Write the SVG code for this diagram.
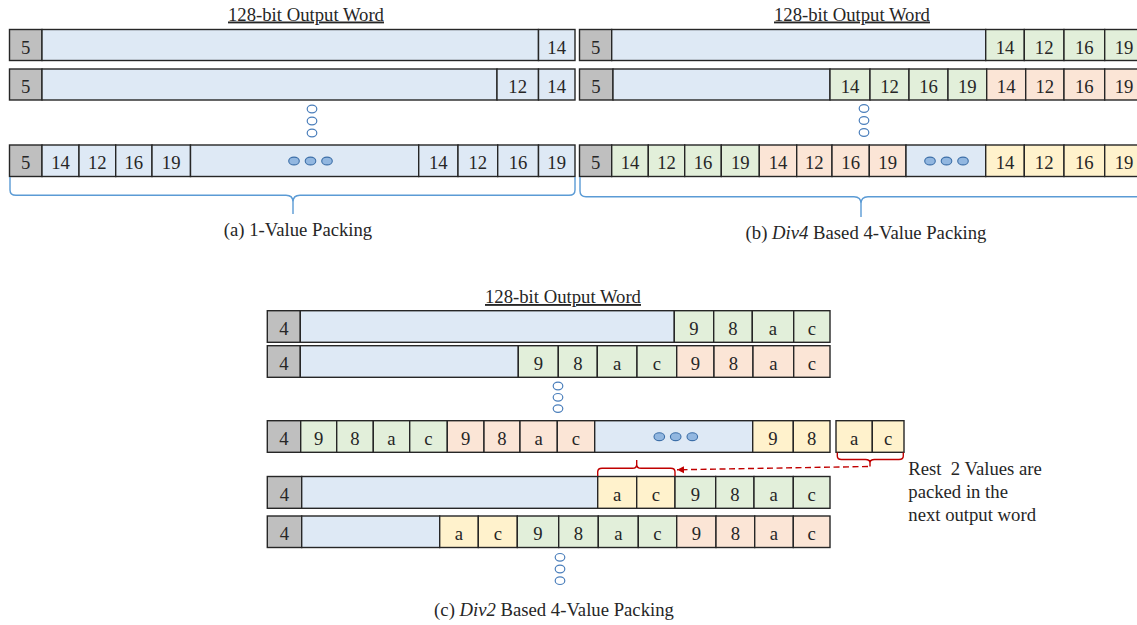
<svg xmlns="http://www.w3.org/2000/svg" width="1137" height="625" viewBox="0 0 1137 625">
<style>
text{font-family:"Liberation Serif","Times New Roman",serif;font-size:18.7px;fill:#262626}
.c{text-anchor:middle}
.ttl{text-decoration:underline}
.g,.b,.gr,.o,.y{stroke:#262626;stroke-width:1.4}
.g{fill:#bfbfbf}.b{fill:#dee9f5}.gr{fill:#e2efda}.o{fill:#fbe5d6}.y{fill:#fff2cc}
.dot{fill:#92b7e0;stroke:#3d6fa8;stroke-width:1.1}
.vd{fill:#fff;stroke:#4a7ebb;stroke-width:1.2}
.br{fill:none;stroke:#5b9bd5;stroke-width:1.4}
.rb{fill:none;stroke:#c00000;stroke-width:1.4}
</style>
<defs>
<marker id="ah" markerWidth="8" markerHeight="8" refX="7" refY="4" orient="auto" markerUnits="userSpaceOnUse">
<path d="M0,0.5 L7,4 L0,7.5 Z" fill="#c00000"/>
</marker>
</defs>
<rect x="0" y="0" width="1137" height="625" fill="#fff"/>

<!-- Titles -->
<text class="c ttl" x="306" y="20.5">128-bit Output Word</text>
<text class="c ttl" x="852" y="20.5">128-bit Output Word</text>
<text class="c ttl" x="563" y="303">128-bit Output Word</text>

<!-- Panel (a) -->
<g id="a-row1">
<rect class="g" x="9.5" y="29.5" width="32.5" height="31"/>
<rect class="b" x="42" y="29.5" width="496.5" height="31"/>
<rect class="b" x="538.5" y="29.5" width="36.5" height="31"/>
<text class="c" x="25.7" y="53.5">5</text><text class="c" x="556.7" y="53.5">14</text>
</g>
<g id="a-row2">
<rect class="g" x="9.5" y="69" width="32.5" height="31"/>
<rect class="b" x="42" y="69" width="455" height="31"/>
<rect class="b" x="497" y="69" width="41.5" height="31"/>
<rect class="b" x="538.5" y="69" width="36.5" height="31"/>
<text class="c" x="25.7" y="93">5</text><text class="c" x="517.7" y="93">12</text><text class="c" x="556.7" y="93">14</text>
</g>
<g id="a-dots">
<ellipse class="vd" cx="312" cy="109" rx="4.8" ry="3.8"/>
<ellipse class="vd" cx="312" cy="121" rx="4.8" ry="3.8"/>
<ellipse class="vd" cx="312" cy="133" rx="4.8" ry="3.8"/>
</g>
<g id="a-row3">
<rect class="g" x="9.5" y="145" width="32.5" height="31.5"/>
<rect class="b" x="42" y="145" width="37" height="31.5"/>
<rect class="b" x="79" y="145" width="36.7" height="31.5"/>
<rect class="b" x="115.7" y="145" width="36.3" height="31.5"/>
<rect class="b" x="152" y="145" width="38.5" height="31.5"/>
<rect class="b" x="190.5" y="145" width="228.2" height="31.5"/>
<rect class="b" x="418.7" y="145" width="39.3" height="31.5"/>
<rect class="b" x="458" y="145" width="39.7" height="31.5"/>
<rect class="b" x="497.7" y="145" width="40.8" height="31.5"/>
<rect class="b" x="538.5" y="145" width="36.5" height="31.5"/>
<text class="c" x="25.7" y="169">5</text><text class="c" x="60.5" y="169">14</text><text class="c" x="97.3" y="169">12</text><text class="c" x="133.8" y="169">16</text><text class="c" x="171.2" y="169">19</text>
<text class="c" x="438.3" y="169">14</text><text class="c" x="477.8" y="169">12</text><text class="c" x="518.1" y="169">16</text><text class="c" x="556.7" y="169">19</text>
<ellipse class="dot" cx="294" cy="161" rx="5.3" ry="3.9"/>
<ellipse class="dot" cx="310.5" cy="161" rx="5.3" ry="3.9"/>
<ellipse class="dot" cx="327" cy="161" rx="5.3" ry="3.9"/>
</g>
<text id="a-caption" class="c" x="298" y="236">(a) 1-Value Packing</text>

<!-- Panel (b) -->
<g id="b-row1">
<rect class="g" x="579.5" y="29.5" width="32.2" height="31"/>
<rect class="b" x="611.7" y="29.5" width="374" height="31"/>
<rect class="gr" x="985.7" y="29.5" width="38.6" height="31"/>
<rect class="gr" x="1024.3" y="29.5" width="39.7" height="31"/>
<rect class="gr" x="1064" y="29.5" width="40.7" height="31"/>
<rect class="gr" x="1104.7" y="29.5" width="39.3" height="31"/>
<text class="c" x="595.6" y="53.5">5</text><text class="c" x="1005" y="53.5">14</text><text class="c" x="1044.2" y="53.5">12</text><text class="c" x="1084.3" y="53.5">16</text><text class="c" x="1124" y="53.5">19</text>
</g>
<g id="b-row2">
<rect class="g" x="579.5" y="69" width="33.5" height="31"/>
<rect class="b" x="613" y="69" width="217" height="31"/>
<rect class="gr" x="830" y="69" width="40" height="31"/>
<rect class="gr" x="870" y="69" width="39" height="31"/>
<rect class="gr" x="909" y="69" width="39" height="31"/>
<rect class="gr" x="948" y="69" width="38.7" height="31"/>
<rect class="o" x="986.7" y="69" width="39" height="31"/>
<rect class="o" x="1025.7" y="69" width="38.3" height="31"/>
<rect class="o" x="1064" y="69" width="40.7" height="31"/>
<rect class="o" x="1104.7" y="69" width="39.3" height="31"/>
<text class="c" x="596" y="93">5</text><text class="c" x="850" y="93">14</text><text class="c" x="889.5" y="93">12</text><text class="c" x="928.5" y="93">16</text><text class="c" x="967.3" y="93">19</text>
<text class="c" x="1006.2" y="93">14</text><text class="c" x="1044.8" y="93">12</text><text class="c" x="1084.3" y="93">16</text><text class="c" x="1124" y="93">19</text>
</g>
<g id="b-dots">
<ellipse class="vd" cx="864" cy="108.5" rx="4.8" ry="3.8"/>
<ellipse class="vd" cx="864" cy="120.5" rx="4.8" ry="3.8"/>
<ellipse class="vd" cx="864" cy="132.5" rx="4.8" ry="3.8"/>
</g>
<g id="b-row3">
<rect class="g" x="579.5" y="145" width="32.2" height="31.5"/>
<rect class="gr" x="611.7" y="145" width="36.6" height="31.5"/>
<rect class="gr" x="648.3" y="145" width="36.4" height="31.5"/>
<rect class="gr" x="684.7" y="145" width="36.6" height="31.5"/>
<rect class="gr" x="721.3" y="145" width="38" height="31.5"/>
<rect class="o" x="759.3" y="145" width="37.4" height="31.5"/>
<rect class="o" x="796.7" y="145" width="35.3" height="31.5"/>
<rect class="o" x="832" y="145" width="37.3" height="31.5"/>
<rect class="o" x="869.3" y="145" width="36.7" height="31.5"/>
<rect class="b" x="906" y="145" width="79.7" height="31.5"/>
<rect class="y" x="985.7" y="145" width="38.6" height="31.5"/>
<rect class="y" x="1024.3" y="145" width="39.7" height="31.5"/>
<rect class="y" x="1064" y="145" width="40.7" height="31.5"/>
<rect class="y" x="1104.7" y="145" width="39.3" height="31.5"/>
<text class="c" x="595.6" y="169">5</text><text class="c" x="630" y="169">14</text><text class="c" x="666.5" y="169">12</text><text class="c" x="703" y="169">16</text><text class="c" x="740.3" y="169">19</text>
<text class="c" x="778" y="169">14</text><text class="c" x="814.3" y="169">12</text><text class="c" x="850.7" y="169">16</text><text class="c" x="887.7" y="169">19</text>
<text class="c" x="1005" y="169">14</text><text class="c" x="1044.2" y="169">12</text><text class="c" x="1084.3" y="169">16</text><text class="c" x="1124" y="169">19</text>
<ellipse class="dot" cx="930" cy="161" rx="5.3" ry="3.9"/>
<ellipse class="dot" cx="946.5" cy="161" rx="5.3" ry="3.9"/>
<ellipse class="dot" cx="963" cy="161" rx="5.3" ry="3.9"/>
</g>
<text id="b-caption" class="c" x="866" y="239">(b) <tspan font-style="italic">Div4</tspan> Based 4-Value Packing</text>

<!-- Panel (c) -->
<g id="c-row1">
<rect class="g" x="267.3" y="310.7" width="33" height="31.6"/>
<rect class="b" x="300.3" y="310.7" width="374" height="31.6"/>
<rect class="gr" x="674.3" y="310.7" width="39.4" height="31.6"/>
<rect class="gr" x="713.7" y="310.7" width="38.6" height="31.6"/>
<rect class="gr" x="752.3" y="310.7" width="41.4" height="31.6"/>
<rect class="gr" x="793.7" y="310.7" width="36.3" height="31.6"/>
<text class="c" x="283.8" y="334.5">4</text><text class="c" x="694" y="334.5">9</text><text class="c" x="733" y="334.5">8</text><text class="c" x="773" y="334.5">a</text><text class="c" x="811.8" y="334.5">c</text>
</g>
<g id="c-row2">
<rect class="g" x="267.3" y="345.7" width="33" height="31.6"/>
<rect class="b" x="300.3" y="345.7" width="218" height="31.6"/>
<rect class="gr" x="518.3" y="345.7" width="40" height="31.6"/>
<rect class="gr" x="558.3" y="345.7" width="39" height="31.6"/>
<rect class="gr" x="597.3" y="345.7" width="39.7" height="31.6"/>
<rect class="gr" x="637" y="345.7" width="39.7" height="31.6"/>
<rect class="o" x="676.7" y="345.7" width="37.3" height="31.6"/>
<rect class="o" x="714" y="345.7" width="39" height="31.6"/>
<rect class="o" x="753" y="345.7" width="40.7" height="31.6"/>
<rect class="o" x="793.7" y="345.7" width="36.3" height="31.6"/>
<text class="c" x="283.8" y="369.5">4</text><text class="c" x="538.3" y="369.5">9</text><text class="c" x="577.8" y="369.5">8</text><text class="c" x="617.2" y="369.5">a</text><text class="c" x="656.8" y="369.5">c</text>
<text class="c" x="695.3" y="369.5">9</text><text class="c" x="733.5" y="369.5">8</text><text class="c" x="773.3" y="369.5">a</text><text class="c" x="811.8" y="369.5">c</text>
</g>
<g id="c-dots1">
<ellipse class="vd" cx="558" cy="386" rx="4.8" ry="3.8"/>
<ellipse class="vd" cx="558" cy="397.3" rx="4.8" ry="3.8"/>
<ellipse class="vd" cx="558" cy="408.6" rx="4.8" ry="3.8"/>
</g>
<g id="c-row3">
<rect class="g" x="267.3" y="420.7" width="33.4" height="31.6"/>
<rect class="gr" x="300.7" y="420.7" width="36" height="31.6"/>
<rect class="gr" x="336.7" y="420.7" width="36.6" height="31.6"/>
<rect class="gr" x="373.3" y="420.7" width="36.4" height="31.6"/>
<rect class="gr" x="409.7" y="420.7" width="37.6" height="31.6"/>
<rect class="o" x="447.3" y="420.7" width="36.7" height="31.6"/>
<rect class="o" x="484" y="420.7" width="36" height="31.6"/>
<rect class="o" x="520" y="420.7" width="37.3" height="31.6"/>
<rect class="o" x="557.3" y="420.7" width="37.4" height="31.6"/>
<rect class="b" x="594.7" y="420.7" width="158" height="31.6"/>
<rect class="y" x="752.7" y="420.7" width="40.6" height="31.6"/>
<rect class="y" x="793.3" y="420.7" width="36.7" height="31.6"/>
<text class="c" x="284" y="444.5">4</text><text class="c" x="318.7" y="444.5">9</text><text class="c" x="355" y="444.5">8</text><text class="c" x="391.5" y="444.5">a</text><text class="c" x="428.5" y="444.5">c</text>
<text class="c" x="465.7" y="444.5">9</text><text class="c" x="502" y="444.5">8</text><text class="c" x="538.7" y="444.5">a</text><text class="c" x="576" y="444.5">c</text>
<text class="c" x="773" y="444.5">9</text><text class="c" x="811.7" y="444.5">8</text>
<ellipse class="dot" cx="659.3" cy="436.7" rx="5.3" ry="3.9"/>
<ellipse class="dot" cx="675.7" cy="436.7" rx="5.3" ry="3.9"/>
<ellipse class="dot" cx="692.3" cy="436.7" rx="5.3" ry="3.9"/>
</g>
<g id="c-rest">
<rect class="y" x="836" y="420.7" width="36.3" height="31.6"/>
<rect class="y" x="872.3" y="420.7" width="31.7" height="31.6"/>
<text class="c" x="854.2" y="444.5">a</text><text class="c" x="888.2" y="444.5">c</text>
</g>
<g id="c-row4">
<rect class="g" x="267.3" y="476.5" width="34.4" height="31.8"/>
<rect class="b" x="301.7" y="476.5" width="296" height="31.8"/>
<rect class="y" x="597.7" y="476.5" width="39" height="31.8"/>
<rect class="y" x="636.7" y="476.5" width="38.3" height="31.8"/>
<rect class="gr" x="675" y="476.5" width="40.7" height="31.8"/>
<rect class="gr" x="715.7" y="476.5" width="38.3" height="31.8"/>
<rect class="gr" x="754" y="476.5" width="39.3" height="31.8"/>
<rect class="gr" x="793.3" y="476.5" width="36.7" height="31.8"/>
<text class="c" x="284.5" y="500.5">4</text><text class="c" x="617.2" y="500.5">a</text><text class="c" x="655.8" y="500.5">c</text><text class="c" x="695.3" y="500.5">9</text><text class="c" x="734.8" y="500.5">8</text><text class="c" x="773.7" y="500.5">a</text><text class="c" x="811.7" y="500.5">c</text>
</g>
<g id="c-row5">
<rect class="g" x="267.3" y="516" width="34.4" height="31.5"/>
<rect class="b" x="301.7" y="516" width="138" height="31.5"/>
<rect class="y" x="439.7" y="516" width="38.6" height="31.5"/>
<rect class="y" x="478.3" y="516" width="39" height="31.5"/>
<rect class="gr" x="517.3" y="516" width="41.4" height="31.5"/>
<rect class="gr" x="558.7" y="516" width="39.6" height="31.5"/>
<rect class="gr" x="598.3" y="516" width="40" height="31.5"/>
<rect class="gr" x="638.3" y="516" width="38.4" height="31.5"/>
<rect class="o" x="676.7" y="516" width="39.3" height="31.5"/>
<rect class="o" x="716" y="516" width="38.7" height="31.5"/>
<rect class="o" x="754.7" y="516" width="38.6" height="31.5"/>
<rect class="o" x="793.3" y="516" width="36.7" height="31.5"/>
<text class="c" x="284.5" y="540">4</text><text class="c" x="459" y="540">a</text><text class="c" x="497.8" y="540">c</text><text class="c" x="538" y="540">9</text><text class="c" x="578.5" y="540">8</text><text class="c" x="618.3" y="540">a</text><text class="c" x="657.5" y="540">c</text>
<text class="c" x="696.3" y="540">9</text><text class="c" x="735.3" y="540">8</text><text class="c" x="774" y="540">a</text><text class="c" x="811.7" y="540">c</text>
</g>
<g id="c-dots2">
<ellipse class="vd" cx="560" cy="557.3" rx="4.8" ry="3.8"/>
<ellipse class="vd" cx="560" cy="569" rx="4.8" ry="3.8"/>
<ellipse class="vd" cx="560" cy="580.7" rx="4.8" ry="3.8"/>
</g>
<g id="c-note">
<text x="908.3" y="475" xml:space="preserve">Rest  2 Values are</text>
<text x="908.3" y="498.3">packed in the</text>
<text x="908.3" y="521">next output word</text>
</g>
<text id="c-caption" class="c" x="554" y="616">(c) <tspan font-style="italic">Div2</tspan> Based 4-Value Packing</text>

<!-- Connectors -->
<g id="connectors">
<path class="br" d="M10,177 V190 Q10,195.3 16,195.3 H286 Q293,195.3 293,202 V214 M293,202 Q293,195.3 300,195.3 H569 Q575,195.3 575,190 V177"/>
<path class="br" d="M580,177 V191 Q580,196.7 586,196.7 H854 Q861,196.7 861,203.5 V217 M861,203.5 Q861,196.7 868,196.7 H1137 Q1143,196.7 1143,191 V177"/>
<path class="rb" d="M837.3,452.5 V456 Q837.3,459.5 841.5,459.5 H865.5 Q870,459.5 870,463 V466.5 M870,463 Q870,459.5 874.5,459.5 H899 Q903.3,459.5 903.3,456 V452.5"/>
<path class="rb" d="M597.7,476 V472 Q597.7,468.3 602,468.3 H632.5 Q636.7,468.3 636.7,464.5 V460 M636.7,464.5 Q636.7,468.3 641,468.3 H670.8 Q675,468.3 675,472 V476"/>
<path d="M868,466.5 L677,469.8" fill="none" stroke="#c00000" stroke-width="1.4" stroke-dasharray="6,3.5" marker-end="url(#ah)"/>
</g>
</svg>
